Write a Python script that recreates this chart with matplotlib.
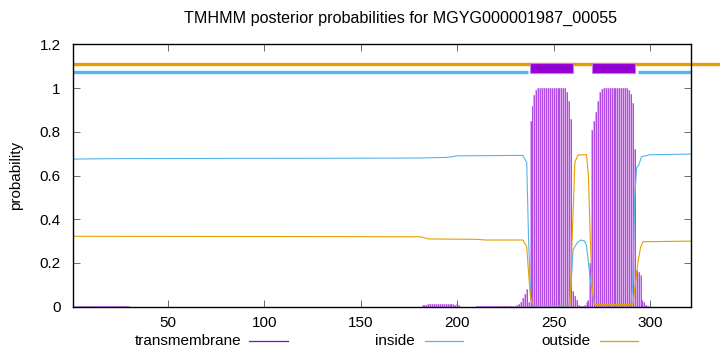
import matplotlib
matplotlib.use("Agg")
import matplotlib.pyplot as plt
from matplotlib.patches import Rectangle
from matplotlib.lines import Line2D

plt.rcParams['font.family'] = ['Liberation Sans', 'DejaVu Sans']

seq_len = 321
title = "TMHMM posterior probabilities for MGYG000001987_00055"

# transmembrane posterior (impulses), residues with visible values
tm_pos = list(range(1, 31)) + list(range(182, 202)) + list(range(210, 238)) + \
    list(range(238, 264)) + list(range(264, 300))
tm_val = [0.003] * 30 + \
    [0.008, 0.01, 0.01, 0.012, 0.012, 0.012, 0.012, 0.012, 0.012, 0.012,
     0.012, 0.012, 0.012, 0.012, 0.012, 0.012, 0.012, 0.01, 0.012, 0.006] + \
    [0.003] * 20 + [0.005, 0.008, 0.012, 0.02, 0.04, 0.06, 0.08, 0.02] + \
    [0.85, 0.92, 0.97, 0.99, 1.0, 1.0, 1.0, 1.0, 1.0, 1.0, 1.0, 1.0, 1.0,
     1.0, 1.0, 1.0, 1.0, 1.0, 1.0, 0.98, 0.94, 0.86, 0.07, 0.05, 0.03, 0.01] + \
    [0.005, 0.005, 0.01, 0.02, 0.03, 0.2, 0.81, 0.85, 0.89, 0.94, 0.98, 0.995,
     1.0, 1.0, 1.0, 1.0, 1.0, 1.0, 1.0, 1.0, 1.0, 1.0, 1.0, 1.0, 1.0,
     0.99, 0.975, 0.93, 0.72, 0.17, 0.16, 0.145, 0.03, 0.02, 0.01, 0.005]

# inside / outside posterior curves (read at breakpoints)
in_x = [1, 20, 60, 150, 180, 195, 200, 234, 236, 237, 238, 239, 258, 259, 260,
        262, 264, 266, 267, 269, 271, 272, 290, 291, 292, 293, 294, 295.5, 300, 321]
in_y = [0.675, 0.677, 0.678, 0.679, 0.68, 0.683, 0.69, 0.692, 0.66, 0.3, 0.05,
        0.005, 0.003, 0.1, 0.26, 0.29, 0.305, 0.3, 0.28, 0.12, 0.02, 0.005, 0.005,
        0.1, 0.5, 0.637, 0.645, 0.686, 0.695, 0.698]
out_x = [1, 180, 182, 185, 210, 215, 234, 236, 237, 238, 239.5, 258.5, 259.5,
         261, 262.7, 267, 268, 269, 270, 271, 291, 292, 293.7, 295, 296.3, 321]
out_y = [0.322, 0.32, 0.318, 0.31, 0.308, 0.305, 0.305, 0.275, 0.15, 0.04, 0.005,
         0.005, 0.3, 0.663, 0.694, 0.695, 0.6, 0.3, 0.08, 0.01, 0.01, 0.08, 0.206,
         0.27, 0.297, 0.3]

# predicted topology bars on top
tm_box_start = [237.6, 269.8]
tm_box_end = [259.9, 292.1]
inside_segs = [(1, 236.6), (293.8, 321)]
outside_segs = [(1, 336)]

c_tm = '#9400d3'
c_in = '#56b4e9'
c_out = '#e69f00'

fig = plt.figure(figsize=(7.2, 3.52), dpi=100)
ax = fig.add_axes([0.1018, 0.1287, 0.8575, 0.7454])

# light body + darker impulse lines, like gnuplot's antialiased impulses
ax.bar(tm_pos, tm_val, width=1.0, color='#ddaaf0', lw=0)
ax.vlines(tm_pos, 0, tm_val, color='#a83ce2', lw=0.6)
ax.plot(in_x, in_y, color=c_in, lw=0.8)
ax.plot(out_x, out_y, color=c_out, lw=0.8)

for a, b in outside_segs:
    ax.plot([a, b], [1.111, 1.111], color=c_out, lw=2.4, clip_on=False,
            solid_capstyle='butt')
for a, b in inside_segs:
    ax.plot([a, b], [1.072, 1.072], color=c_in, lw=2.4, solid_capstyle='butt')
for s, e in zip(tm_box_start, tm_box_end):
    ax.add_patch(Rectangle((s, 1.068), e - s, 0.045, facecolor=c_tm,
                           edgecolor='#c27ee6', lw=0.8, zorder=3))

ax.set_xlim(1, seq_len)
ax.set_ylim(0, 1.2)
ax.set_xticks([50, 100, 150, 200, 250, 300])
ax.set_yticks([0, 0.2, 0.4, 0.6, 0.8, 1, 1.2])
ax.set_yticklabels(['0', '0.2', '0.4', '0.6', '0.8', '1', '1.2'])
ax.tick_params(direction='in', top=True, right=True, length=5, width=0.6,
               labelsize=11, pad=7, color='#555555')
ax.tick_params(axis='y', pad=9)
for sp in ax.spines.values():
    sp.set_linewidth(1.0)

ax.set_ylabel('probability', fontsize=11, labelpad=12)
fig.text(0.556, 0.949, title, ha='center', va='center', fontsize=11.6)

# legend along the bottom, gnuplot style
leg_y = 1 - 341 / 352
for label, col, xt, x0, x1 in [('transmembrane', c_tm, 241, 249, 288),
                               ('inside', c_in, 415, 425, 463),
                               ('outside', c_out, 590, 600, 638)]:
    fig.text(xt / 720, leg_y, label, ha='right', va='center', fontsize=11)
    fig.add_artist(Line2D([x0 / 720, x1 / 720], [leg_y, leg_y], color=col,
                          lw=0.9, transform=fig.transFigure))

fig.savefig('out.png', dpi=100)
